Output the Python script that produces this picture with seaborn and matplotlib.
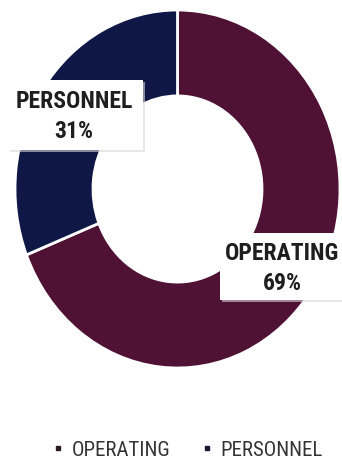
import matplotlib
matplotlib.use("Agg")
import matplotlib.pyplot as plt
import seaborn as sns
from matplotlib.lines import Line2D
from matplotlib.patches import Rectangle

categories = ["OPERATING", "PERSONNEL"]
values = [69, 31]
pct_labels = ["69%", "31%"]
colors = ["#4f1235", "#0f1746"]

sns.set_theme(style="white")
plt.rcParams["font.family"] = ["Roboto Condensed", "DejaVu Sans"]

W, H = 342, 459
fig = plt.figure(figsize=(W / 100, H / 100), dpi=100)
fig.patch.set_facecolor("white")
ax = fig.add_axes([15 / W, 1 - 368 / H, 325 / W, 358 / H])

wedges, _ = ax.pie(values, colors=colors, startangle=90, counterclock=False,
                   radius=1.0,
                   wedgeprops=dict(width=0.48, edgecolor="white", linewidth=2))
ax.set_aspect("auto")
ax.set_xlim(-1, 1)
ax.set_ylim(-1, 1)
ax.axis("off")

# label boxes (figure pixel coords: x0, y0_top, x1, y1_bottom), text centre
boxes = {"OPERATING": (220, 233, 346, 300, 282, 253, 283),
         "PERSONNEL": (8, 80, 143, 150, 74, 101, 131)}
for cat, pct in zip(categories, pct_labels):
    x0, y0, x1, y1, tx, ty1, ty2 = boxes[cat]
    shadow = Rectangle(((x0 + 2) / W, 1 - (y1 + 2) / H), (x1 - x0) / W, (y1 - y0) / H,
                       transform=fig.transFigure, facecolor="#d8d8d8", edgecolor="none",
                       alpha=0.6, zorder=3)
    rect = Rectangle((x0 / W, 1 - y1 / H), (x1 - x0) / W, (y1 - y0) / H,
                     transform=fig.transFigure, facecolor="white", edgecolor="none", zorder=4)
    fig.add_artist(shadow)
    fig.add_artist(rect)
    fig.text(tx / W, 1 - ty1 / H, cat, ha="center", va="center", fontsize=17,
             fontweight="bold", color="#1e1e1e", zorder=5)
    fig.text(tx / W, 1 - ty2 / H, pct, ha="center", va="center", fontsize=17,
             fontweight="bold", color="#1e1e1e", zorder=5)

handles = [Line2D([0], [0], marker="s", linestyle="none", markersize=3.5,
                  markerfacecolor=c, markeredgecolor=c)
           for c in ["#2a1a24", "#141a33"]]
leg = fig.legend(handles, categories, loc="center", bbox_to_anchor=(188 / W, 1 - 450 / H),
                 ncol=2, frameon=False, fontsize=15, handlelength=0.5,
                 handletextpad=0.4, columnspacing=1.5, borderpad=0)
for t in leg.get_texts():
    t.set_color("#333333")

fig.savefig("out.png", dpi=100, facecolor="white")
